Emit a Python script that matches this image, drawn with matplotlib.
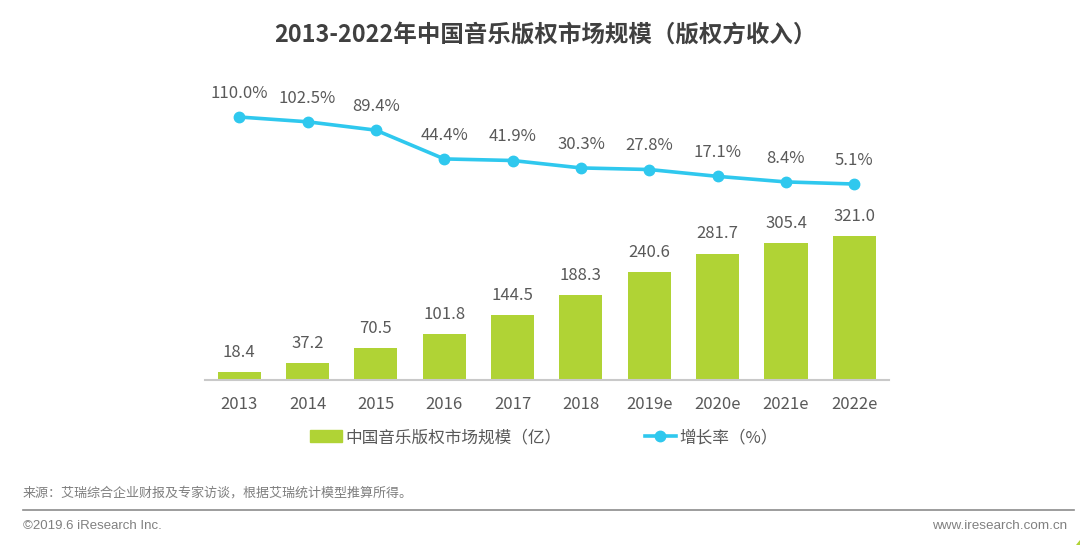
import matplotlib
matplotlib.use('Agg')
import matplotlib.pyplot as plt
from matplotlib.lines import Line2D
from matplotlib.patches import Patch, Polygon

plt.rcParams['font.family'] = ['Noto Sans CJK SC', 'DejaVu Sans']

years = ['2013', '2014', '2015', '2016', '2017', '2018', '2019e', '2020e', '2021e', '2022e']
market_size = [18.4, 37.2, 70.5, 101.8, 144.5, 188.3, 240.6, 281.7, 305.4, 321.0]
growth_rate = [110.0, 102.5, 89.4, 44.4, 41.9, 30.3, 27.8, 17.1, 8.4, 5.1]

W, H = 1080, 545
GREEN = '#b0d335'
BLUE = '#2fc8ee'
TEXT = '#595959'

fig = plt.figure(figsize=(W / 100, H / 100), dpi=100)

# axes box in pixels: x 205-888.5, y 60-380
ax = fig.add_axes([205 / W, (H - 380) / H, 683.5 / W, 320 / H])
x = list(range(len(years)))
ax.bar(x, market_size, width=0.63, color=GREEN)
ax.set_xlim(-0.5, 9.5)
ax.set_ylim(0, 713)
for s in ['top', 'left', 'right']:
    ax.spines[s].set_visible(False)
ax.spines['bottom'].set_color('#c9c9c9')
ax.spines['bottom'].set_linewidth(1.5)
ax.set_yticks([])
ax.set_xticks(x)
ax.set_xticklabels(years, fontsize=12, color=TEXT)
ax.tick_params(axis='x', length=0, pad=11.5)

for i, v in enumerate(market_size):
    ax.annotate(f'{v:.1f}', (i, v), xytext=(0, 8), textcoords='offset points',
                ha='center', va='bottom', fontsize=12, color=TEXT)

# growth rate on its own scale
ax2 = ax.twinx()
ax2.plot(x, growth_rate, color=BLUE, lw=2.6, marker='o', ms=7.5)
ax2.set_ylim(-301.6, 199.2)
ax2.axis('off')
for i, v in enumerate(growth_rate):
    ax2.annotate(f'{v:.1f}%', (i, v), xytext=(0, 11), textcoords='offset points',
                 ha='center', va='bottom', fontsize=12, color=TEXT)

fig.text(545.5 / W, 1 - 35 / H, '2013-2022年中国音乐版权市场规模（版权方收入）', fontsize=16.9,
         fontweight='bold', color='#404040', ha='center', va='center')

# legend
handles = [Patch(color=GREEN), Line2D([], [], color=BLUE, lw=2.6, marker='o', ms=7.5)]
labels = ['中国音乐版权市场规模（亿）', '增长率（%）']
fig.legend(handles, labels, loc='center', bbox_to_anchor=(544 / W, 1 - 437.5 / H), ncol=2,
           frameon=False, fontsize=12, labelcolor=TEXT, columnspacing=5.0,
           handlelength=1.9, handletextpad=0.2)

# footer
fig.text(23 / W, 1 - 493 / H, '来源：艾瑞综合企业财报及专家访谈，根据艾瑞统计模型推算所得。', fontsize=9.4,
         color='#7f7f7f', ha='left', va='center')
fig.add_artist(Line2D([23 / W, 1074 / W], [1 - 510 / H, 1 - 510 / H], color='#8c8c8c', lw=1.2))
fig.text(23 / W, 1 - 526 / H, '©2019.6 iResearch Inc.', fontsize=9.55, color='#808080',
         family='Liberation Sans', ha='left', va='center')
fig.text(1067 / W, 1 - 526 / H, 'www.iresearch.com.cn', fontsize=9.7, color='#808080',
         family='Liberation Sans', ha='right', va='center')

# small green corner mark
fig.add_artist(Polygon([[1076 / W, 0], [1080 / W, 0], [1080 / W, 5 / H]], closed=True,
                       color=GREEN, transform=fig.transFigure))

fig.savefig('out.png', dpi=100)
